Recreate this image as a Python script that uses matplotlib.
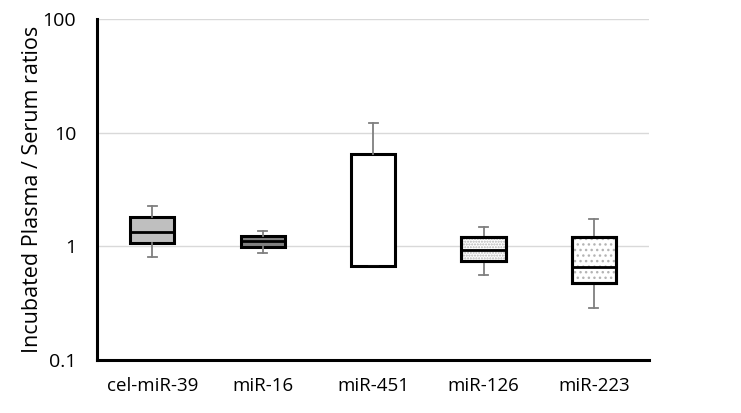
import matplotlib.pyplot as plt
from matplotlib.patches import PathPatch

plt.rcParams['font.family'] = ['Open Sans', 'DejaVu Sans']

# ---------------------------------------------------------------
# data (ratios, log scale)
labels = ["cel-miR-39", "miR-16", "miR-451", "miR-126", "miR-223"]
whis_lo = [0.80, 0.88, 0.67, 0.56, 0.29]
q1      = [1.08, 0.99, 0.67, 0.74, 0.48]
median  = [1.34, 1.11, 0.67, 0.93, 0.66]
q3      = [1.81, 1.24, 6.45, 1.21, 1.22]
whis_hi = [2.26, 1.36, 12.1, 1.49, 1.75]

fills   = ['#bfbfbf', '#808080', 'white', 'white', 'white']
hatches = [None, None, None, '......', '...']

# ---------------------------------------------------------------
fig = plt.figure(figsize=(7.41, 4.13), dpi=100)
ax = fig.add_axes([0.131, 0.128, 0.745, 0.826])

stats = []
for i, lab in enumerate(labels):
    stats.append(dict(label=lab, whislo=whis_lo[i], q1=q1[i], med=median[i],
                      q3=q3[i], whishi=whis_hi[i], fliers=[]))

bp = ax.bxp(stats, positions=range(len(labels)), widths=0.4,
            patch_artist=True, showfliers=False,
            boxprops=dict(edgecolor='black', linewidth=2.2),
            medianprops=dict(color='black', linewidth=2.0),
            whiskerprops=dict(color='#7f7f7f', linewidth=1.3),
            capprops=dict(color='#7f7f7f', linewidth=1.3),
            capwidths=0.08, zorder=3)

for box, fc, h in zip(bp['boxes'], fills, hatches):
    box.set_facecolor(fc)
    if h:
        ax.add_patch(PathPatch(box.get_path(), facecolor='none',
                               edgecolor='#b4b4b4', lw=0, hatch=h, zorder=3.5))
        # border again, above the hatch
        ax.add_patch(PathPatch(box.get_path(), facecolor='none',
                               edgecolor='black', lw=2.2, zorder=3.6))

for m in bp['medians']:
    m.set_zorder(4)

ax.set_yscale('log')
ax.set_ylim(0.1, 100)
ax.set_xlim(-0.5, len(labels) - 0.5)
ax.set_yticks([0.1, 1, 10, 100])
ax.set_yticklabels(['0.1', '1', '10', '100'])
ax.minorticks_off()
ax.yaxis.grid(True, color='#d9d9d9', linewidth=1.0)
ax.set_axisbelow(True)

ax.spines['top'].set_visible(False)
ax.spines['right'].set_visible(False)
ax.spines['left'].set_linewidth(2.2)
ax.spines['bottom'].set_linewidth(2.2)
ax.tick_params(length=0, colors='black')
ax.tick_params(axis='y', pad=15, labelsize=14)
ax.tick_params(axis='x', pad=12, labelsize=13.5)

ax.set_ylabel("Incubated Plasma / Serum ratios", fontsize=15.5)
ax.yaxis.set_label_coords(-0.098, 0.5)

fig.savefig("out.png", dpi=100)
